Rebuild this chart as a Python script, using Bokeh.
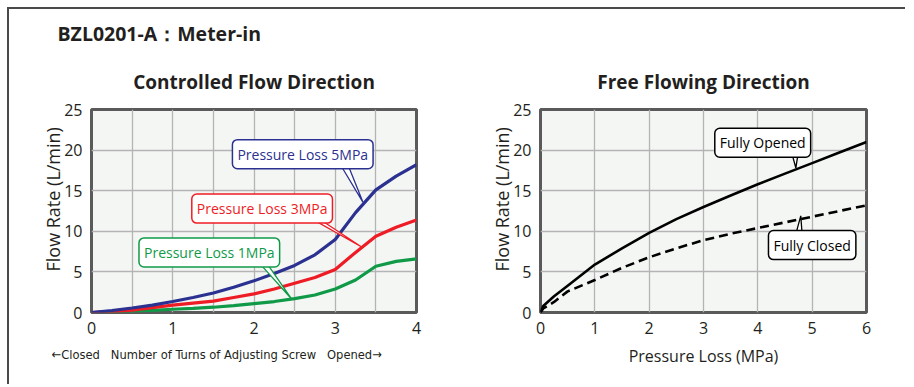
from bokeh.plotting import figure
from bokeh.layouts import row
from bokeh.models import Range1d, SingleIntervalTicker, Label, Title
from bokeh.embed import file_html
from bokeh.resources import INLINE

# ---------------- data ----------------
turns = [0, 0.25, 0.5, 0.75, 1, 1.25, 1.5, 1.75, 2, 2.25, 2.5, 2.75, 3, 3.25, 3.5, 3.75, 4]
loss_5mpa = [0, 0.25, 0.55, 0.9, 1.35, 1.85, 2.4, 3.1, 3.9, 4.8, 5.8, 7.1, 9.0, 12.3, 15.1, 16.8, 18.2]
loss_3mpa = [0, 0.1, 0.3, 0.6, 0.9, 1.15, 1.4, 1.85, 2.3, 2.9, 3.6, 4.3, 5.3, 7.4, 9.4, 10.5, 11.4]
loss_1mpa = [0, 0.05, 0.15, 0.25, 0.4, 0.5, 0.65, 0.85, 1.1, 1.35, 1.7, 2.15, 2.9, 4.0, 5.7, 6.3, 6.6]

pressure = [0, 0.05, 0.25, 0.5, 1, 1.5, 2, 2.5, 3, 3.5, 4, 4.5, 5, 5.5, 6]
fully_opened = [0, 0.8, 2.0, 3.3, 5.9, 7.9, 9.8, 11.5, 13.0, 14.4, 15.8, 17.1, 18.4, 19.7, 21.0]
fully_closed = [0, 0.5, 1.3, 2.6, 4.0, 5.5, 6.8, 7.9, 8.9, 9.7, 10.4, 11.1, 11.8, 12.5, 13.2]

# ---------------- styles ----------------
FONT = "Open Sans"
TXT = "#231f20"
BLUE = "#2b3190"
RED = "#ee1c25"
GREEN = "#109a48"
BG = "#f4f6f4"
GRID = "#b4b4b4"
FRAME = "#5a5a5a"
NB = "\u00a0"
YLABEL = NB * 5 + "Flow Rate (L/min)"


def style(p, xlabel, ylabel):
    p.background_fill_color = BG
    p.border_fill_color = "white"
    p.outline_line_color = FRAME
    p.outline_line_width = 3
    p.xgrid.grid_line_color = GRID
    p.ygrid.grid_line_color = GRID
    p.xgrid.grid_line_width = 1.3
    p.ygrid.grid_line_width = 1.3
    p.ygrid.ticker = SingleIntervalTicker(interval=5)
    p.yaxis.ticker = SingleIntervalTicker(interval=5)
    p.xaxis.ticker = SingleIntervalTicker(interval=1)
    for ax in (p.xaxis[0], p.yaxis[0]):
        ax.axis_line_color = None
        ax.major_tick_line_color = None
        ax.minor_tick_line_color = None
        ax.major_label_text_font = FONT
        ax.major_label_text_font_size = "16px"
        ax.major_label_text_color = TXT
        ax.axis_label_text_font = FONT
        ax.axis_label_text_font_style = "normal"
        ax.axis_label_text_color = TXT
    p.xaxis.major_label_standoff = 3
    p.yaxis.major_label_standoff = 3
    if xlabel:
        p.xaxis.axis_label = xlabel
        p.xaxis.axis_label_text_font_size = "16px"
        p.xaxis.axis_label_standoff = 8
    p.yaxis.axis_label = ylabel
    p.yaxis.axis_label_text_font_size = "18px"
    p.yaxis.axis_label_standoff = -4


def callout(p, text, color, cx, cy, bx, by, tx, ty, half_w):
    p.patch(x=[bx - half_w, tx, bx + half_w], y=[by, ty, by],
            fill_color="white", line_color=color, line_width=1.3)
    p.add_layout(Label(x=cx, y=cy, text=text, text_align="center", text_baseline="middle",
                       text_font=FONT, text_font_size="14px", text_color=color,
                       background_fill_color="white", border_line_color=color,
                       border_line_width=1.5, border_radius=5, padding=5))


# ---------------- left chart ----------------
p1 = figure(width=460, height=375, x_range=Range1d(0, 4), y_range=Range1d(0, 25),
            output_backend="svg", toolbar_location=None,
            min_border_left=82, min_border_right=53, min_border_top=100, min_border_bottom=72)
style(p1, None, YLABEL)
p1.xgrid.ticker = SingleIntervalTicker(interval=0.5)

p1.line(turns, loss_1mpa, line_color=GREEN, line_width=3.2)
p1.line(turns, loss_3mpa, line_color=RED, line_width=3.2)
p1.line(turns, loss_5mpa, line_color=BLUE, line_width=3.2)

callout(p1, "Pressure Loss 5MPa", BLUE, 2.6, 19.5, 3.09, 18.6, 3.34, 13.6, 0.05)
callout(p1, "Pressure Loss 3MPa", RED, 2.1, 12.8, 2.68, 12.0, 3.32, 8.1, 0.05)
callout(p1, "Pressure Loss 1MPa", GREEN, 1.45, 7.4, 2.07, 6.6, 2.46, 1.7, 0.05)

# x-axis caption of the left chart
p1.add_layout(Title(text="\u2190Closed" + NB * 3 + "Number of Turns of Adjusting Screw" + NB * 3 + "Opened\u2192",
                    align="left", offset=-40, text_font="DejaVu Sans Condensed",
                    text_font_size="12.8px", text_font_style="normal", text_color=TXT,
                    vertical_align="top", standoff=20), "below")

p1.add_layout(Title(text="Controlled Flow Direction", align="center", text_font=FONT,
                    text_font_size="19px", text_font_style="bold", text_color=TXT,
                    vertical_align="top", standoff=26), "above")
p1.add_layout(Title(text="BZL0201-A\uff1aMeter-in", align="left", offset=-34, text_font=FONT,
                    text_font_size="19.5px", text_font_style="bold", text_color=TXT,
                    vertical_align="top", standoff=14), "above")

# ---------------- right chart ----------------
p2 = figure(width=436, height=375, x_range=Range1d(0, 6), y_range=Range1d(0, 25),
            output_backend="svg", toolbar_location=None,
            min_border_left=71, min_border_right=39, min_border_top=100, min_border_bottom=72)
style(p2, "Pressure Loss (MPa)", YLABEL)
p2.xgrid.ticker = SingleIntervalTicker(interval=1)

p2.line(pressure, fully_closed, line_color="black", line_width=2.6, line_dash="9 5")
p2.line(pressure, fully_opened, line_color="black", line_width=2.6)

callout(p2, "Fully Opened", "black", 4.09, 20.9, 4.68, 20.0, 4.70, 17.8, 0.07)
callout(p2, "Fully Closed", "black", 5.0, 8.3, 4.75, 9.2, 4.79, 11.9, 0.07)

p2.add_layout(Title(text="Free Flowing Direction", align="center", text_font=FONT,
                    text_font_size="19px", text_font_style="bold", text_color=TXT,
                    vertical_align="top", standoff=26), "above")

layout = row(p1, p2, styles={"border-top": "2px solid #4a4a4a",
                             "border-left": "2px solid #4a4a4a",
                             "margin-left": "7px", "margin-top": "7px"})

open("out.html", "w").write(file_html(layout, INLINE))
